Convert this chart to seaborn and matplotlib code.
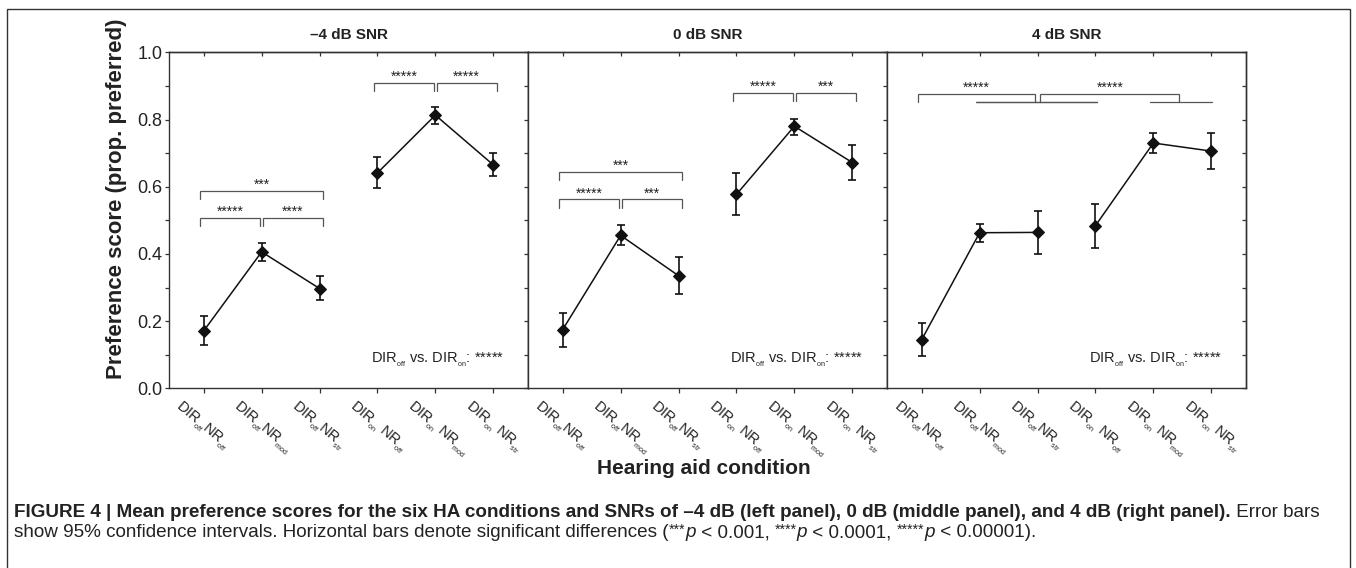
# --- Librerías ---
import numpy as np
import pandas as pd
import matplotlib
matplotlib.use('Agg')
import matplotlib.pyplot as plt
from matplotlib.patches import Rectangle
from matplotlib.transforms import ScaledTranslation, blended_transform_factory
from matplotlib.ticker import MultipleLocator
import seaborn as sns

# --- Datos ---
tick_labels = [r'DIR$_{_{\mathregular{off}}}$NR$_{_{\mathregular{off}}}$',
               r'DIR$_{_{\mathregular{off}}}$NR$_{_{\mathregular{mod}}}$',
               r'DIR$_{_{\mathregular{off}}}$NR$_{_{\mathregular{str}}}$',
               r'DIR$_{_{\mathregular{on}}}$ NR$_{_{\mathregular{off}}}$',
               r'DIR$_{_{\mathregular{on}}}$ NR$_{_{\mathregular{mod}}}$',
               r'DIR$_{_{\mathregular{on}}}$ NR$_{_{\mathregular{str}}}$']
dir_group = ['off', 'off', 'off', 'on', 'on', 'on']
snr_titles = ['–4 dB SNR', '0 dB SNR', '4 dB SNR']

score_m4 = [0.171, 0.406, 0.297, 0.641, 0.813, 0.665]
lo_m4 = [0.130, 0.378, 0.263, 0.596, 0.786, 0.631]
hi_m4 = [0.214, 0.433, 0.334, 0.687, 0.837, 0.700]

score_0 = [0.175, 0.455, 0.335, 0.577, 0.780, 0.672]
lo_0 = [0.124, 0.427, 0.281, 0.516, 0.755, 0.619]
hi_0 = [0.225, 0.486, 0.391, 0.642, 0.802, 0.724]

score_p4 = [0.145, 0.463, 0.464, 0.484, 0.730, 0.706]
lo_p4 = [0.097, 0.435, 0.401, 0.419, 0.700, 0.654]
hi_p4 = [0.194, 0.490, 0.528, 0.550, 0.761, 0.761]

# comparaciones significativas: (lado izq, lado der, estrellas); tupla = grupo
sig_m4 = [(1, 2, '*****'), (2, 3, '****'), (1, 3, '***'), (4, 5, '*****'), (5, 6, '*****')]
sig_0 = [(1, 2, '*****'), (2, 3, '***'), (1, 3, '***'), (4, 5, '*****'), (5, 6, '***')]
sig_p4 = [(1, (2, 4), '*****'), ((2, 4), (5, 6), '*****')]
dir_main_effect = '*****'

# --- Tabla larga ---
rows = []
for title, sc, lo, hi in zip(snr_titles, [score_m4, score_0, score_p4],
                             [lo_m4, lo_0, lo_p4], [hi_m4, hi_0, hi_p4]):
    for i in range(6):
        rows.append({'snr': title, 'pos': i + 1, 'dir': dir_group[i],
                     'score': sc[i], 'lo': lo[i], 'hi': hi[i]})
df = pd.DataFrame(rows)

# --- Estilo ---
sns.set_style('ticks')
plt.rcParams['font.family'] = ['Liberation Sans', 'DejaVu Sans']
plt.rcParams['mathtext.fontset'] = 'custom'
plt.rcParams['mathtext.rm'] = 'Liberation Sans'
plt.rcParams['mathtext.it'] = 'Liberation Sans:italic'
plt.rcParams['mathtext.bf'] = 'Liberation Sans:bold'
plt.rcParams['mathtext.sf'] = 'Liberation Sans'
TXT = '#222222'
SPN = '#333333'

W, H = 1356, 568
fig = plt.figure(figsize=(W / 100, H / 100), dpi=100)

ax_left = [169, 528, 887]
ax_w, ax_top, ax_bot = 359, 52.3, 388.3

# layout de corchetes (altura de la línea) por panel
bracket_y = [[0.506, 0.506, 0.588, 0.910, 0.910],
             [0.562, 0.562, 0.645, 0.880, 0.880],
             [0.876, 0.876]]
leg = 0.024


def side_end(s, left, neighbours):
    # x del extremo del corchete
    if isinstance(s, tuple):
        mid = (s[0] + s[1]) / 2
        return mid + 0.05 if left else mid - 0.05
    if left:
        return s + 0.02 if s in neighbours else s - 0.06
    return s - 0.02 if s in neighbours else s + 0.06


for k, title in enumerate(snr_titles):
    ax = fig.add_axes([ax_left[k] / W, 1 - ax_bot / H, ax_w / W, (ax_bot - ax_top) / H])
    sub = df[df['snr'] == title]

    ax.errorbar(sub['pos'], sub['score'],
                yerr=[sub['score'] - sub['lo'], sub['hi'] - sub['score']],
                fmt='none', ecolor='#111111', elinewidth=1.2, capsize=2.8, capthick=1.2, zorder=2)
    sns.lineplot(data=sub, x='pos', y='score', units='dir', estimator=None, color='#111111',
                 marker='D', markersize=6.5, markeredgecolor='#111111', linewidth=1.1,
                 legend=False, ax=ax, zorder=3)

    ax.set_xlim(0.4, 6.6)
    ax.set_ylim(0, 1)
    ax.set_xlabel('')
    ax.set_ylabel('')
    ax.set_title(title, fontsize=11, fontweight='bold', pad=9.5, color=TXT)

    ax.set_xticks(range(1, 7))
    ax.set_xticklabels([])
    ax.tick_params(axis='x', direction='out', length=3.6, width=0.9, color=SPN)
    lab_tr = blended_transform_factory(ax.transData, ax.transAxes) + \
        ScaledTranslation(-0.21, -0.10, fig.dpi_scale_trans)
    for i, lab in enumerate(tick_labels):
        ax.text(i + 1, 0, lab, transform=lab_tr, rotation=-40, rotation_mode='anchor',
                ha='left', va='top', fontsize=10.5, color=TXT, clip_on=False)

    ax.yaxis.set_major_locator(MultipleLocator(0.2))
    ax.yaxis.set_minor_locator(MultipleLocator(0.1))
    if k == 0:
        ax.set_yticks(np.arange(0, 1.01, 0.2))
        ax.set_yticklabels([f'{v:.1f}' for v in np.arange(0, 1.01, 0.2)], fontsize=13, color=TXT)
        ax.tick_params(axis='y', which='both', direction='out', length=3, width=0.9, pad=1.5, color=SPN)
    else:
        ax.tick_params(axis='y', which='both', left=False, labelleft=False)

    # ticks internos arriba y a la derecha
    top = ax.secondary_xaxis('top')
    top.set_xticks(range(1, 7))
    top.tick_params(direction='in', length=3.2, width=0.9, labeltop=False, color=SPN)
    right = ax.secondary_yaxis('right')
    right.yaxis.set_major_locator(MultipleLocator(0.2))
    right.yaxis.set_minor_locator(MultipleLocator(0.1))
    right.tick_params(which='both', direction='in', length=3, width=0.9, labelright=False, color=SPN)
    for sp in list(ax.spines.values()) + list(top.spines.values()) + list(right.spines.values()):
        sp.set_color(SPN)
        sp.set_linewidth(1.0)

    # --- Corchetes de significancia ---
    sigs = [sig_m4, sig_0, sig_p4][k]
    for (a, b, stars), yb in zip(sigs, bracket_y[k]):
        others = [(s2, e2) for (s2, e2, _), y2 in zip(sigs, bracket_y[k])
                  if y2 == yb and (s2, e2) != (a, b)]
        x0 = side_end(a, True, [e2 for _, e2 in others])
        x1 = side_end(b, False, [s2 for s2, _ in others])
        ax.plot([x0, x0, x1, x1], [yb - leg, yb, yb, yb - leg], color='#555555', lw=0.9,
                solid_joinstyle='miter', zorder=1)
        ax.text((x0 + x1) / 2, yb + 0.006, stars, ha='center', va='baseline',
                fontsize=10, color=TXT)
        for g in (a, b):
            if isinstance(g, tuple):
                ax.plot([g[0] - 0.06, g[1] + 0.02], [yb - leg, yb - leg], color='#555555',
                        lw=0.9, zorder=1)

    ax.text(1 - 24 / ax_w, 0.075,
            r'DIR$_{_{\mathregular{off}}}$ vs. DIR$_{_{\mathregular{on}}}$: ' + dir_main_effect,
            transform=ax.transAxes, ha='right', va='baseline', fontsize=10.5, color=TXT)

# --- Etiquetas de ejes ---
fig.text(117 / W, 1 - 199 / H, 'Preference score (prop. preferred)', rotation=90,
         ha='center', va='center', fontsize=16, fontweight='bold', color=TXT)
fig.text(704 / W, 1 - 468 / H, 'Hearing aid condition', ha='center', va='center',
         fontsize=15, fontweight='bold', color=TXT)

# --- Marco ---
fig.patches.append(Rectangle((7 / W, 1 - 572 / H), (1350 - 7) / W, (572 - 9) / H,
                             transform=fig.transFigure, fill=False, ec='#333333', lw=1.0))

# --- Leyenda de la figura ---
cap_bold = ('FIGURE 4 | Mean preference scores for the six HA conditions and SNRs of '
            '–4 dB (left panel), 0 dB (middle panel), and 4 dB (right panel).')
cap_line1 = [(cap_bold, 'b'), (' Error bars', 'n')]
cap_line2 = [('show 95% confidence intervals. Horizontal bars denote significant differences (', 'n'),
             ('***', 's'), ('p', 'i'), (' < 0.001, ', 'n'),
             ('****', 's'), ('p', 'i'), (' < 0.0001, ', 'n'),
             ('*****', 's'), ('p', 'i'), (' < 0.00001).', 'n')]


def put_line(pieces, x_px, y_px, size):
    r = fig.canvas.get_renderer()
    out = []
    x = x_px
    for txt, kind in pieces:
        kw = dict(fontsize=size, color=TXT, va='baseline')
        dy = 0
        if kind == 'b':
            kw['fontweight'] = 'bold'
        elif kind == 'i':
            kw['fontstyle'] = 'italic'
        elif kind == 's':
            kw['fontsize'] = size * 0.75
            dy = size * 0.25
        t = fig.text(x / W, 1 - (y_px - dy) / H, txt, **kw)
        x = t.get_window_extent(renderer=r).x1
        out.append(t)
    return out, x


texts, x_end = put_line(cap_line1, 14, 517, 11)
scale = (1322 - 14) / (x_end - 14)
for t in texts:
    t.remove()
put_line(cap_line1, 14, 517, 11 * scale)
put_line(cap_line2, 14, 537, 11 * scale)

fig.savefig('out.png', dpi=100)
